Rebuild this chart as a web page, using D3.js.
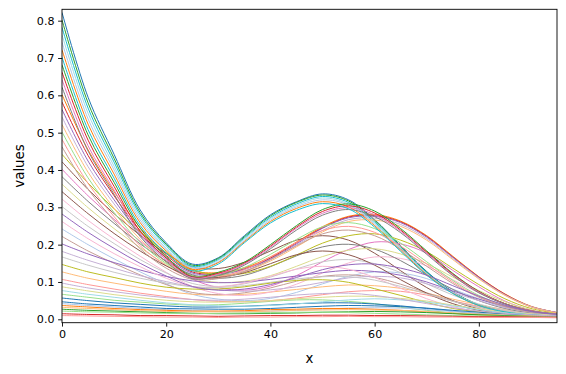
<!DOCTYPE html>
<html>
<head>
<meta charset="utf-8">
<script src="https://cdn.jsdelivr.net/npm/d3@7"></script>
<style>
  body { margin: 0; background: #fff; }
  svg { display: block; }
  text { font-family: "DejaVu Sans", sans-serif; fill: #000; }
</style>
</head>
<body>
<div id="chart"></div>
<script>
// sample positions along x (every 5 units)
var xValues = [0, 5, 10, 15, 20, 25, 30, 35, 40, 45, 50, 55, 60, 65, 70, 75, 80, 85, 90, 95];

// one row per run at the x positions above
var runs = [
  [.822,.595,.442,.293,.205,.148,.165,.224,.280,.315,.336,.320,.267,.197,.128,.074,.039,.021,.012,.009],
  [.242,.200,.162,.127,.095,.067,.054,.050,.056,.072,.095,.115,.127,.124,.109,.081,.055,.032,.018,.011],
  [.602,.454,.342,.245,.176,.131,.125,.138,.167,.207,.248,.276,.281,.263,.224,.169,.114,.068,.035,.018],
  [.127,.110,.097,.085,.075,.067,.065,.067,.073,.080,.087,.092,.090,.083,.070,.054,.039,.026,.016,.012],
  [.802,.580,.431,.286,.201,.145,.163,.221,.277,.313,.333,.317,.265,.195,.126,.073,.039,.021,.012,.009],
  [.067,.059,.051,.046,.041,.038,.039,.043,.048,.052,.052,.048,.042,.032,.024,.017,.012,.010,.009,.008],
  [.582,.439,.331,.237,.171,.127,.122,.135,.164,.205,.245,.274,.278,.261,.222,.167,.113,.067,.034,.018],
  [.107,.093,.081,.070,.061,.053,.048,.047,.050,.057,.066,.074,.077,.075,.065,.049,.035,.023,.014,.011],
  [.562,.424,.320,.229,.165,.124,.120,.134,.162,.202,.244,.272,.276,.259,.220,.166,.112,.066,.034,.018],
  [.542,.409,.309,.222,.160,.121,.117,.130,.159,.199,.238,.267,.271,.254,.216,.163,.110,.065,.034,.018],
  [.422,.348,.283,.225,.176,.140,.136,.153,.183,.212,.224,.212,.177,.130,.085,.050,.028,.016,.010,.008],
  [.222,.183,.150,.119,.093,.072,.066,.071,.084,.102,.115,.119,.112,.094,.071,.049,.032,.020,.013,.009],
  [.402,.331,.268,.209,.155,.108,.085,.078,.089,.117,.154,.187,.207,.202,.177,.131,.087,.049,.025,.013],
  [.322,.265,.215,.169,.126,.088,.069,.064,.073,.094,.124,.151,.167,.163,.143,.106,.071,.041,.021,.012],
  [.382,.316,.257,.202,.156,.119,.110,.118,.141,.170,.194,.201,.188,.157,.118,.080,.050,.029,.017,.011],
  [.302,.249,.203,.160,.124,.096,.088,.095,.113,.135,.154,.160,.149,.125,.095,.065,.041,.025,.015,.010],
  [.442,.365,.296,.234,.179,.134,.119,.123,.142,.172,.204,.224,.229,.212,.181,.137,.093,.055,.029,.016],
  [.362,.299,.243,.192,.147,.111,.099,.102,.117,.142,.168,.185,.189,.175,.149,.113,.077,.047,.025,.014],
  [.782,.566,.421,.280,.197,.142,.160,.218,.273,.309,.329,.313,.261,.193,.125,.073,.038,.020,.012,.009],
  [.762,.552,.410,.273,.191,.139,.158,.215,.270,.305,.325,.309,.258,.190,.123,.072,.038,.020,.012,.009],
  [.057,.050,.044,.040,.036,.033,.033,.035,.038,.042,.044,.044,.041,.036,.029,.022,.016,.013,.010,.009],
  [.742,.537,.400,.266,.187,.137,.154,.211,.266,.301,.320,.306,.255,.188,.122,.071,.038,.020,.012,.009],
  [.722,.523,.389,.259,.183,.134,.152,.208,.262,.297,.315,.301,.251,.185,.120,.070,.037,.020,.012,.009],
  [.522,.394,.297,.214,.154,.116,.114,.128,.156,.194,.234,.262,.266,.249,.212,.160,.108,.064,.033,.017],
  [.682,.494,.367,.244,.168,.116,.126,.153,.200,.251,.294,.309,.290,.243,.183,.123,.075,.042,.023,.014],
  [.502,.379,.286,.206,.150,.116,.118,.139,.174,.214,.248,.259,.243,.204,.154,.104,.064,.037,.021,.013],
  [.662,.480,.356,.236,.164,.114,.123,.150,.196,.247,.289,.304,.285,.239,.180,.121,.074,.042,.023,.013],
  [.482,.364,.275,.197,.144,.111,.113,.133,.167,.206,.238,.249,.233,.196,.148,.100,.061,.035,.020,.012],
  [.202,.175,.152,.132,.115,.103,.098,.100,.107,.116,.125,.131,.128,.118,.100,.076,.054,.035,.021,.014],
  [.182,.158,.137,.117,.101,.087,.079,.075,.079,.087,.099,.111,.115,.111,.095,.072,.050,.031,.019,.013],
  [.342,.283,.230,.183,.143,.114,.112,.125,.149,.173,.183,.173,.145,.106,.070,.042,.024,.014,.010,.008],
  [.462,.349,.264,.189,.137,.107,.109,.128,.160,.197,.229,.239,.224,.188,.142,.096,.059,.034,.019,.012],
  [.642,.465,.346,.229,.160,.111,.121,.148,.193,.244,.284,.299,.280,.236,.177,.119,.073,.041,.023,.013],
  [.262,.216,.176,.141,.110,.088,.087,.097,.115,.134,.142,.134,.112,.083,.055,.034,.020,.012,.009,.008],
  [.622,.451,.335,.222,.154,.109,.117,.145,.189,.239,.279,.294,.275,.232,.174,.117,.071,.041,.022,.013],
  [.167,.145,.126,.110,.097,.087,.085,.090,.099,.108,.114,.114,.105,.088,.068,.048,.032,.022,.015,.011],
  [.147,.127,.112,.097,.086,.081,.081,.087,.097,.104,.106,.099,.082,.064,.045,.029,.020,.014,.011,.009],
  [.087,.076,.066,.058,.051,.047,.046,.047,.050,.055,.059,.062,.061,.056,.049,.038,.028,.019,.014,.010],
  [.702,.508,.378,.251,.177,.130,.148,.205,.258,.292,.310,.296,.247,.182,.118,.069,.037,.020,.012,.009],
  [.077,.067,.059,.051,.044,.039,.036,.035,.037,.041,.047,.052,.055,.052,.046,.036,.026,.017,.012,.009],
  [.047,.041,.037,.033,.029,.028,.027,.027,.029,.032,.035,.037,.036,.034,.030,.024,.019,.014,.011,.009],
  [.042,.037,.033,.029,.026,.023,.021,.021,.022,.024,.027,.030,.031,.030,.026,.021,.016,.012,.010,.009],
  [.037,.033,.029,.026,.024,.022,.022,.023,.026,.027,.029,.029,.027,.024,.020,.016,.012,.010,.009,.007],
  [.032,.029,.026,.023,.021,.020,.020,.020,.022,.024,.025,.026,.025,.024,.021,.017,.014,.011,.009,.008],
  [.027,.024,.022,.020,.018,.016,.015,.015,.016,.017,.019,.020,.021,.020,.018,.015,.012,.010,.008,.007],
  [.022,.020,.019,.017,.016,.015,.016,.017,.018,.019,.019,.018,.016,.014,.012,.010,.009,.008,.008,.007],
  [.015,.013,.012,.010,.010,.009,.008,.009,.010,.010,.011,.011,.010,.010,.009,.008,.007,.007,.006,.006],
  [.010,.009,.008,.007,.006,.006,.005,.006,.006,.007,.007,.008,.007,.007,.006,.006,.005,.005,.005,.004],
  [.282,.233,.190,.150,.116,.088,.078,.081,.093,.112,.133,.146,.148,.137,.118,.090,.062,.038,.021,.013],
  [.097,.084,.074,.065,.058,.053,.051,.054,.059,.065,.069,.070,.064,.054,.042,.031,.022,.016,.012,.009]
];

var yTicks = [0, 0.1, 0.2, 0.3, 0.4, 0.5, 0.6, 0.7, 0.8];
var xTicks = [0, 20, 40, 60, 80];

// matplotlib tab20 cycle
var colors = ["#1f77b4", "#aec7e8", "#ff7f0e", "#ffbb78", "#2ca02c", "#98df8a",
              "#d62728", "#ff9896", "#9467bd", "#c5b0d5", "#8c564b", "#c49c94",
              "#e377c2", "#f7b6d2", "#7f7f7f", "#c7c7c7", "#bcbd22", "#dbdb8d",
              "#17becf", "#9edae5"];

var margin = {top: 9.3, right: 9, bottom: 51.3, left: 62},
    width = 566 - margin.left - margin.right,
    height = 374 - margin.top - margin.bottom;

var svg = d3.select("#chart").append("svg")
    .attr("width", 566)
    .attr("height", 374)
  .append("g")
    .attr("transform", "translate(" + margin.left + "," + margin.top + ")");

var x = d3.scaleLinear().domain([0, 95]).range([0, width]);
var y = d3.scaleLinear().domain([-0.0091, 0.8305]).range([height, 0]);

var line = d3.line()
    .curve(d3.curveCatmullRom.alpha(0.5))
    .x(function(d, i) { return x(xValues[i]); })
    .y(function(d) { return y(d); });

svg.append("defs").append("clipPath").attr("id", "clip")
  .append("rect").attr("width", width).attr("height", height);

svg.append("g")
    .attr("clip-path", "url(#clip)")
  .selectAll("path")
    .data(runs)
  .enter().append("path")
    .attr("d", line)
    .style("fill", "none")
    .style("stroke", function(d, i) { return colors[i % colors.length]; })
    .style("stroke-width", "1px");

// axes
var xAxis = svg.append("g")
    .attr("transform", "translate(0," + height + ")")
    .call(d3.axisBottom(x).tickValues(xTicks).tickSize(3.9).tickPadding(3.6));

var yAxis = svg.append("g")
    .call(d3.axisLeft(y).tickValues(yTicks).tickSize(3.9).tickPadding(3.6).tickFormat(d3.format(".1f")));

[xAxis, yAxis].forEach(function(a) {
  a.select(".domain").remove();
  a.selectAll("line").style("stroke", "#000").style("stroke-width", "0.9px");
  a.selectAll("text").style("font-size", "11.1px").style("font-family", "'DejaVu Sans', sans-serif");
});

// frame
svg.append("rect")
    .attr("width", width)
    .attr("height", height)
    .style("fill", "none")
    .style("stroke", "#000")
    .style("stroke-width", "0.9px");

// axis labels
svg.append("text")
    .text("x")
    .attr("x", width / 2)
    .attr("y", height + 40)
    .attr("text-anchor", "middle")
    .style("font-size", "13.3px");

svg.append("text")
    .text("values")
    .attr("transform", "translate(-38," + (height / 2) + ") rotate(-90)")
    .attr("text-anchor", "middle")
    .style("font-size", "13.3px");
</script>
</body>
</html>
